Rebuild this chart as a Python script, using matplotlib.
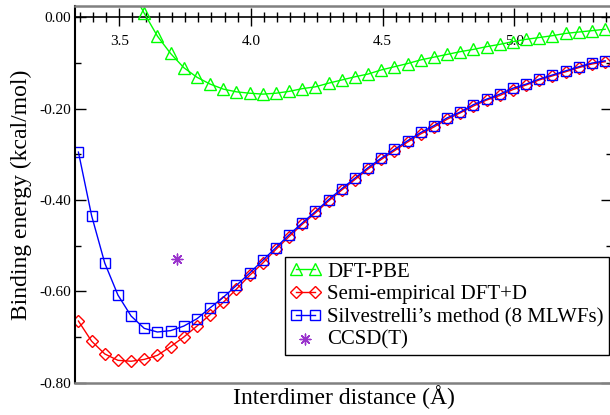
import numpy as np
import matplotlib
matplotlib.use("Agg")
import matplotlib.pyplot as plt
from matplotlib.ticker import MultipleLocator, FixedLocator, FormatStrFormatter

plt.rcParams['font.family'] = ['Liberation Serif', 'DejaVu Serif']

# interdimer distance (A)
dist = [3.345, 3.395, 3.445, 3.495, 3.545, 3.595, 3.645, 3.695, 3.745, 3.795,
        3.845, 3.895, 3.945, 3.995, 4.045, 4.095, 4.145, 4.195, 4.245, 4.295,
        4.345, 4.395, 4.445, 4.495, 4.545, 4.595, 4.645, 4.695, 4.745, 4.795,
        4.845, 4.895, 4.945, 4.995, 5.045, 5.095, 5.145, 5.195, 5.245, 5.295,
        5.345]

# DFT-PBE starts at 3.545 (first point is above the top of the frame)
pbe = [0.062, 0.009, -0.041, -0.079, -0.110, -0.131, -0.146, -0.157, -0.163,
       -0.166, -0.168, -0.166, -0.162, -0.156, -0.152, -0.144, -0.137, -0.130,
       -0.124, -0.115, -0.108, -0.101, -0.093, -0.087, -0.081, -0.075, -0.070,
       -0.064, -0.059, -0.053, -0.048, -0.044, -0.040, -0.035, -0.032, -0.029,
       -0.026]

dftd = [-0.665, -0.709, -0.737, -0.751, -0.753, -0.749, -0.740, -0.721, -0.700,
        -0.676, -0.651, -0.624, -0.595, -0.565, -0.538, -0.508, -0.480, -0.453,
        -0.428, -0.402, -0.378, -0.355, -0.332, -0.311, -0.292, -0.273, -0.255,
        -0.240, -0.223, -0.209, -0.194, -0.181, -0.171, -0.158, -0.148, -0.137,
        -0.128, -0.119, -0.110, -0.102, -0.097]

silv = [-0.295, -0.434, -0.538, -0.608, -0.654, -0.681, -0.689, -0.686, -0.676,
        -0.660, -0.636, -0.613, -0.587, -0.560, -0.532, -0.504, -0.476, -0.450,
        -0.425, -0.399, -0.375, -0.352, -0.329, -0.308, -0.289, -0.270, -0.252,
        -0.237, -0.220, -0.207, -0.191, -0.179, -0.168, -0.155, -0.146, -0.135,
        -0.126, -0.117, -0.108, -0.100, -0.095]

ccsd_x = [3.72]
ccsd_y = [-0.529]

x_ticks = [3.5, 4.0, 4.5, 5.0]

xmin, xmax = 3.332, 5.371
ymin, ymax = -0.80, 0.025

fig = plt.figure(figsize=(6.1, 4.15), dpi=100)
ax = fig.add_axes([75/610, 1 - 382.7/415, 537/610, 376.7/415])

ax.plot(dist[4:], pbe, color='#00ff00', lw=1.0, marker='^', ms=8,
        mfc='none', mec='#00ff00', mew=1.0, label='DFT-PBE')
ax.plot(dist, dftd, color='#ff0000', lw=1.0, marker='D', ms=6.5,
        mfc='none', mec='#ff0000', mew=1.0, label='Semi-empirical DFT+D')
ax.plot(dist, silv, color='#0000ff', lw=1.0, marker='s', ms=7.5,
        mfc='none', mec='#0000ff', mew=1.0,
        label='Silvestrelli\u2019s method (8 MLWFs)')
ax.scatter(ccsd_x, ccsd_y, marker=(8, 2, 0), s=60, color='#9932cc',
           linewidths=1.0, label='CCSD(T)')

ax.set_xlim(xmin, xmax)
ax.set_ylim(ymin, ymax)

# frame
for s in ['top', 'bottom', 'right']:
    ax.spines[s].set_color('#808080')
    ax.spines[s].set_linewidth(1.8)
ax.spines['left'].set_color('black')
ax.spines['left'].set_linewidth(1.5)

ax.tick_params(axis='x', which='both', bottom=False, labelbottom=False)
ax.yaxis.set_major_locator(MultipleLocator(0.2))
ax.yaxis.set_minor_locator(MultipleLocator(0.1))
ax.yaxis.set_major_formatter(FormatStrFormatter('%.2f'))
ax.tick_params(axis='y', which='both', direction='in', left=True, right=True,
               labelsize=11, pad=3, color='black', width=1.0)
ax.tick_params(axis='y', which='major', length=8)
ax.tick_params(axis='y', which='minor', length=4)

# x axis drawn along y = 0
sec = ax.secondary_xaxis(0, transform=ax.transData)
sec.spines['bottom'].set_color('black')
sec.spines['bottom'].set_linewidth(1.2)
sec.xaxis.set_major_locator(FixedLocator(x_ticks))
sec.xaxis.set_minor_locator(MultipleLocator(0.05))
sec.xaxis.set_major_formatter(FormatStrFormatter('%.1f'))
sec.tick_params(axis='x', which='both', direction='inout', labelsize=11,
                pad=6.5, width=1.0, color='black')
sec.tick_params(axis='x', which='major', length=13)
sec.tick_params(axis='x', which='minor', length=7)

ax.set_xlabel('Interdimer distance (\u00c5)', fontsize=17, labelpad=2)
ax.set_ylabel('Binding energy (kcal/mol)', fontsize=17, labelpad=5)

leg = ax.legend(loc='lower right', bbox_to_anchor=(0.9944, 0.0735),
                borderaxespad=0, fontsize=15, numpoints=2, scatterpoints=1,
                handlelength=1.5, handletextpad=0.3, labelspacing=0.15,
                borderpad=0.25, fancybox=False, framealpha=1)
leg.get_frame().set_edgecolor('black')
leg.get_frame().set_linewidth(1.0)

fig.savefig('out.png', dpi=100)
